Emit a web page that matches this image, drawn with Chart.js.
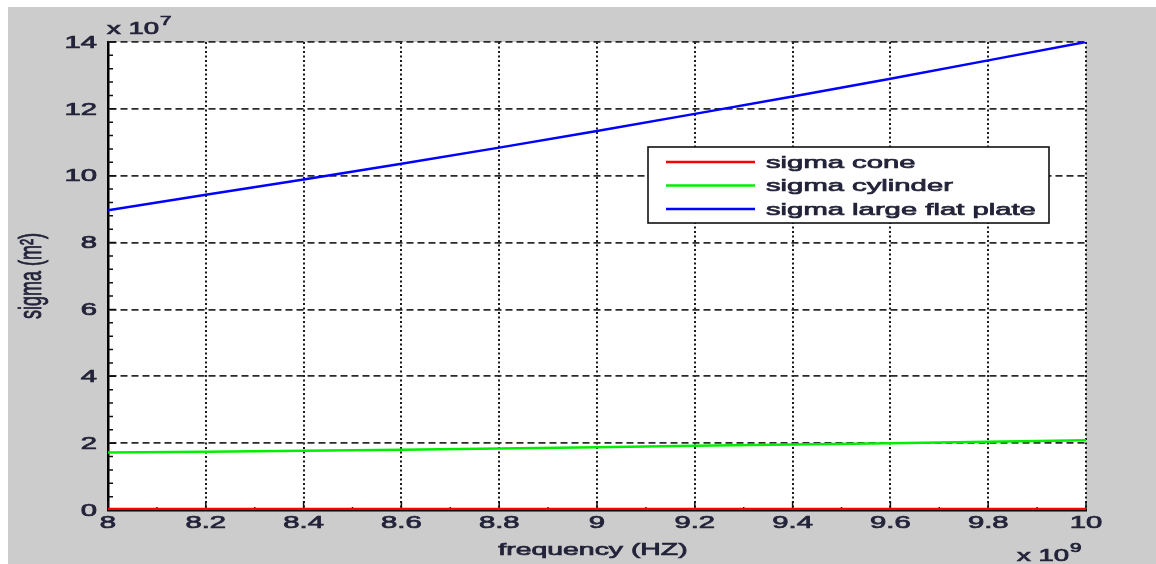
<!DOCTYPE html>
<html>
<head>
<meta charset="utf-8">
<script src="https://cdn.jsdelivr.net/npm/chart.js@4.4.1/dist/chart.umd.min.js"></script>
<style>
    html, body { margin: 0; padding: 0; background: #fff; overflow: hidden; }
    #wrap { position: absolute; left: 0; top: 0; width: 1156px; height: 564px; }
</style>
</head>
<body>
<div id="wrap"><canvas id="rcsChart"></canvas></div>
<script>
// frequency in units of 1e9 Hz, sigma in units of 1e7 m^2
const freqs = [8, 8.2, 8.4, 8.6, 8.8, 9, 9.2, 9.4, 9.6, 9.8, 10];
const sigmaCone = [0.03, 0.03, 0.03, 0.03, 0.03, 0.03, 0.03, 0.03, 0.03, 0.03, 0.03];
const sigmaCylinder = [1.72, 1.74, 1.77, 1.80, 1.84, 1.88, 1.92, 1.96, 2.00, 2.04, 2.09];
const sigmaPlate = [8.97, 9.43, 9.89, 10.36, 10.84, 11.34, 11.85, 12.37, 12.90, 13.45, 14.0];

const xTicks = [8, 8.2, 8.4, 8.6, 8.8, 9, 9.2, 9.4, 9.6, 9.8, 10];
const xTickLabels = ['8', '8.2', '8.4', '8.6', '8.8', '9', '9.2', '9.4', '9.6', '9.8', '10'];
const yTicks = [0, 2, 4, 6, 8, 10, 12, 14];
const yTickLabels = ['0', '2', '4', '6', '8', '10', '12', '14'];

const seriesNames = ['sigma cone', 'sigma cylinder', 'sigma large flat plate'];
const seriesColors = ['#ff0000', '#00ee00', '#0000ff'];

const FONT = '"Liberation Sans", Arial, sans-serif';
const TEXT = '#23233a';
const SX = 1.72; // the picture is stretched sideways

function wideText(ctx, txt, x, y, size, align, base) {
    ctx.save();
    ctx.translate(x, y);
    ctx.scale(SX, 1);
    ctx.font = size + 'px ' + FONT;
    ctx.fillStyle = TEXT;
    ctx.strokeStyle = TEXT;
    ctx.lineWidth = 0.7;
    ctx.textAlign = align;
    ctx.textBaseline = base;
    ctx.fillText(txt, 0, 0);
    ctx.strokeText(txt, 0, 0);
    ctx.restore();
}

function textWidth(ctx, txt, size) {
    ctx.save();
    ctx.font = size + 'px ' + FONT;
    const w = ctx.measureText(txt).width * SX;
    ctx.restore();
    return w;
}

function expLabel(ctx, base, exp, x, y) {
    wideText(ctx, base, x, y, 16, 'left', 'alphabetic');
    const w = textWidth(ctx, base, 16);
    wideText(ctx, exp, x + w + 1, y - 9, 12, 'left', 'alphabetic');
}

const figurePlugin = {
    id: 'figure',
    beforeDraw(chart) {
        const ctx = chart.ctx;
        const a = chart.chartArea;
        ctx.save();
        ctx.fillStyle = '#ffffff';
        ctx.fillRect(0, 0, chart.width, chart.height);
        ctx.fillStyle = '#cccccc';
        ctx.fillRect(8, 7, chart.width - 8, chart.height - 7);
        ctx.fillStyle = '#ffffff';
        ctx.fillRect(a.left, a.top, a.right - a.left, a.bottom - a.top);
        ctx.restore();
    },
    beforeDatasetsDraw(chart) {
        const ctx = chart.ctx;
        const a = chart.chartArea;
        const xs = chart.scales.x;
        const ys = chart.scales.y;
        ctx.save();
        ctx.strokeStyle = '#111';
        ctx.lineWidth = 1.5;
        ctx.beginPath();
        yTicks.forEach((v, i) => {
            const py = ys.getPixelForValue(v);
            ctx.moveTo(a.left, py);
            ctx.lineTo(a.left + 8, py);
            if (i < yTicks.length - 1) {
                const step = (yTicks[i + 1] - v) / 5;
                for (let k = 1; k < 5; k++) {
                    const my = ys.getPixelForValue(v + k * step);
                    ctx.moveTo(a.left, my);
                    ctx.lineTo(a.left + 5, my);
                }
            }
        });
        xTicks.forEach((v, i) => {
            const px = xs.getPixelForValue(v);
            ctx.moveTo(px, a.bottom);
            ctx.lineTo(px, a.bottom - 9);
            if (i < xTicks.length - 1) {
                const mx = xs.getPixelForValue((v + xTicks[i + 1]) / 2);
                ctx.moveTo(mx, a.bottom);
                ctx.lineTo(mx, a.bottom - 3);
            }
        });
        ctx.stroke();
        ctx.restore();
    },
    afterDraw(chart) {
        const ctx = chart.ctx;
        const a = chart.chartArea;
        const xs = chart.scales.x;
        const ys = chart.scales.y;

        // tick labels
        yTicks.forEach((v, i) => {
            wideText(ctx, yTickLabels[i], a.left - 11, ys.getPixelForValue(v) + 1, 17, 'right', 'middle');
        });
        xTicks.forEach((v, i) => {
            wideText(ctx, xTickLabels[i], xs.getPixelForValue(v), a.bottom + 5, 17, 'center', 'top');
        });

        // axis titles
        wideText(ctx, 'frequency (HZ)', 593, 555, 16.5, 'center', 'alphabetic');
        ctx.save();
        ctx.translate(32, 276);
        ctx.scale(SX, 1);
        ctx.rotate(-Math.PI / 2);
        ctx.font = '18px ' + FONT;
        ctx.fillStyle = TEXT;
        ctx.strokeStyle = TEXT;
        ctx.lineWidth = 0.5;
        ctx.textAlign = 'center';
        ctx.textBaseline = 'middle';
        ctx.fillText('sigma (m²)', 0, 0);
        ctx.strokeText('sigma (m²)', 0, 0);
        ctx.restore();

        // exponent labels
        expLabel(ctx, 'x 10', '7', 107, 34);
        expLabel(ctx, 'x 10', '9', 1017, 561);

        // legend
        const lx = 648, ly = 147, lw = 401, lh = 76;
        ctx.save();
        ctx.fillStyle = '#ffffff';
        ctx.fillRect(lx, ly, lw, lh);
        ctx.strokeStyle = '#111';
        ctx.lineWidth = 1.6;
        ctx.strokeRect(lx, ly, lw, lh);
        chart.data.datasets.forEach((ds, i) => {
            const ry = 162 + i * 23.5;
            ctx.strokeStyle = ds.borderColor;
            ctx.lineWidth = 2.5;
            ctx.beginPath();
            ctx.moveTo(666, ry);
            ctx.lineTo(755, ry);
            ctx.stroke();
            wideText(ctx, ds.label, 766, ry + 1, 17, 'left', 'middle');
        });
        ctx.restore();
    }
};

const ctx = document.getElementById('rcsChart').getContext('2d');
const rcsChart = new Chart(ctx, {
    type: 'line',
    data: {
        labels: freqs,
        datasets: [
            { label: seriesNames[0], data: freqs.map((f, i) => ({ x: f, y: sigmaCone[i] })), borderColor: seriesColors[0] },
            { label: seriesNames[1], data: freqs.map((f, i) => ({ x: f, y: sigmaCylinder[i] })), borderColor: seriesColors[1] },
            { label: seriesNames[2], data: freqs.map((f, i) => ({ x: f, y: sigmaPlate[i] })), borderColor: seriesColors[2] }
        ]
    },
    options: {
        responsive: true,
        maintainAspectRatio: false,
        animation: false,
        elements: {
            line: { borderWidth: 2.5, tension: 0, fill: false },
            point: { radius: 0 }
        },
        layout: { padding: { left: 0, top: 42, right: 70, bottom: 0 } },
        scales: {
            x: {
                type: 'linear',
                min: 8,
                max: 10,
                afterBuildTicks: s => { s.ticks = xTicks.map(v => ({ value: v })); },
                afterFit: s => { s.height = 54; },
                ticks: { display: false },
                grid: { color: '#1a1a1a', lineWidth: 2, drawTicks: false },
                border: { display: true, color: '#000', width: 2.5, dash: [2, 2.5] }
            },
            y: {
                min: 0,
                max: 14,
                afterBuildTicks: s => { s.ticks = yTicks.map(v => ({ value: v })); },
                afterFit: s => { s.width = 108; },
                ticks: { display: false },
                grid: { color: '#2a2a2a', lineWidth: 1.7, drawTicks: false },
                border: { display: true, color: '#000', width: 2.5, dash: [7, 4] }
            }
        },
        plugins: {
            legend: { display: false },
            tooltip: { enabled: false }
        }
    },
    plugins: [figurePlugin]
});
</script>
</body>
</html>
